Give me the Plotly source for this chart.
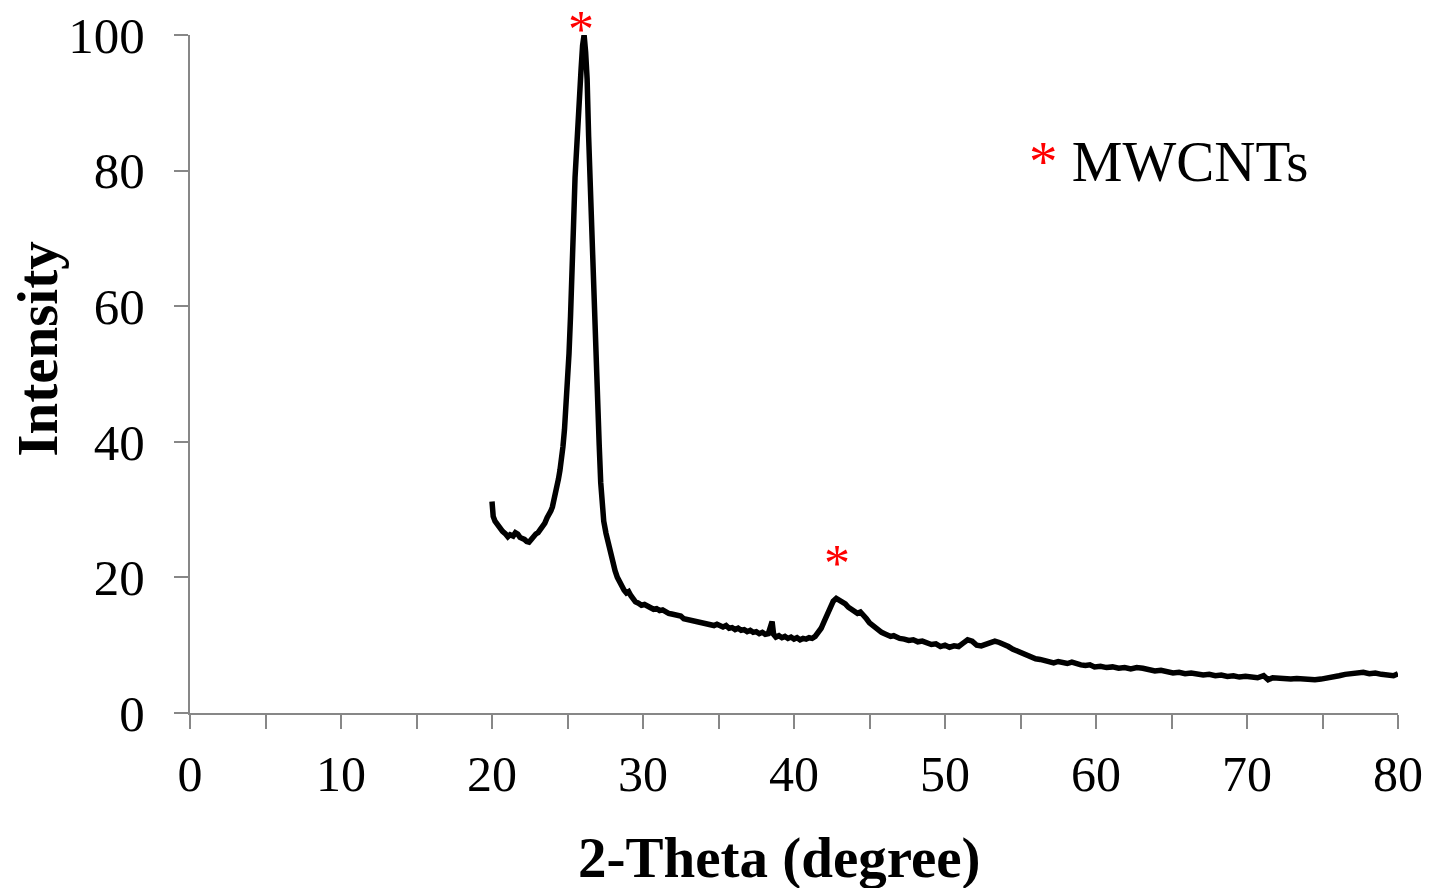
import plotly.graph_objects as go

theta = [20.0, 20.03, 20.08, 20.2, 20.35, 20.5, 20.7, 20.9, 21.05, 21.2, 21.4, 21.55, 21.7, 21.85,
         22.0, 22.15, 22.3, 22.45, 22.6, 22.75, 22.9, 23.05, 23.2, 23.35, 23.5, 23.65, 23.8, 23.9,
         24.0, 24.1, 24.2, 24.3, 24.4, 24.5, 24.6, 24.7, 24.8, 24.9, 25.0, 25.1, 25.2, 25.3, 25.4,
         25.5, 25.6, 25.7, 25.8, 25.9, 26.0, 26.1, 26.2, 26.3, 26.4, 26.5, 26.6, 26.7, 26.8, 26.9,
         27.0, 27.1, 27.2, 27.3, 27.4, 27.55, 27.7, 27.85, 28.0, 28.15, 28.3, 28.45, 28.6, 28.75,
         28.9, 29.05, 29.2, 29.35, 29.5, 29.7, 29.9, 30.1, 30.3, 30.5, 30.7, 30.9, 31.1, 31.3, 31.5,
         31.7, 31.9, 32.1, 32.3, 32.5, 32.7, 32.9, 33.1, 33.3, 33.5, 33.7, 33.9, 34.1, 34.3, 34.5,
         34.7, 34.9, 35.1, 35.3, 35.5, 35.7, 35.9, 36.1, 36.3, 36.5, 36.7, 36.9, 37.1, 37.3, 37.5,
         37.7, 37.9, 38.1, 38.3, 38.45, 38.55, 38.65, 38.8, 39.0, 39.2, 39.4, 39.6, 39.8, 40.0, 40.2,
         40.4, 40.6, 40.8, 41.0, 41.2, 41.4, 41.6, 41.8, 42.0, 42.2, 42.4, 42.6, 42.8, 43.0, 43.2,
         43.4, 43.6, 43.8, 44.0, 44.2, 44.4, 44.6, 44.8, 45.0, 45.2, 45.4, 45.6, 45.8, 46.0, 46.2,
         46.4, 46.6, 46.8, 47.0, 47.3, 47.6, 47.9, 48.2, 48.5, 48.8, 49.1, 49.4, 49.7, 50.0, 50.3,
         50.6, 50.9, 51.2, 51.5, 51.8, 52.1, 52.4, 52.7, 53.0, 53.3, 53.6, 53.9, 54.2, 54.5, 54.8,
         55.1, 55.4, 55.7, 56.0, 56.3, 56.6, 56.9, 57.2, 57.5, 57.8, 58.1, 58.4, 58.7, 59.0, 59.3,
         59.6, 59.9, 60.3, 60.7, 61.1, 61.5, 61.9, 62.3, 62.7, 63.1, 63.5, 63.9, 64.3, 64.7, 65.1,
         65.5, 65.9, 66.3, 66.7, 67.1, 67.5, 67.9, 68.3, 68.7, 69.1, 69.5, 69.9, 70.3, 70.7, 71.1,
         71.4, 71.7, 72.1, 72.5, 72.9, 73.3, 73.7, 74.1, 74.5, 74.9, 75.3, 75.7, 76.1, 76.5, 76.9,
         77.3, 77.7, 78.1, 78.5, 78.9, 79.3, 79.7, 80.0]

intensity = [31.2, 30.0, 29.0, 28.3, 27.8, 27.3, 26.8, 26.4, 26.0, 26.3, 26.1, 26.6, 26.4, 25.9,
             25.8, 25.6, 25.3, 25.2, 25.6, 26.1, 26.4, 26.6, 27.0, 27.5, 28.0, 28.8, 29.3, 29.8,
             30.4, 31.3, 32.2, 33.2, 34.5, 35.8, 37.2, 39.3, 41.8, 45.0, 48.5, 53.0, 58.5, 63.5, 72.0,
             79.0, 84.0, 88.5, 91.5, 95.0, 98.5, 100.0, 97.5, 93.5, 85.0, 77.6, 70.0, 63.0, 57.5, 51.5,
             47.0, 39.5, 34.0, 30.4, 28.3, 26.5, 25.0, 23.5, 22.3, 21.0, 20.0, 19.3, 18.9, 18.1,
             17.7, 17.9, 17.3, 16.7, 16.4, 16.2, 15.9, 16.0, 15.7, 15.6, 15.3, 15.4, 15.1, 15.2, 14.9,
             14.7, 14.6, 14.5, 14.2, 14.3, 13.9, 13.8, 13.9, 13.6, 13.7, 13.4, 13.5, 13.2, 13.3, 13.1,
             12.9, 13.1, 12.8, 12.7, 12.9, 12.5, 12.6, 12.3, 12.5, 12.2, 12.3, 12.0, 12.2, 11.9, 12.0,
             11.7, 11.9, 11.6, 11.7, 13.3, 13.5, 11.6, 11.2, 11.4, 11.1, 11.3, 11.0, 11.2, 10.9, 11.1,
             10.8, 11.0, 10.9, 11.1, 11.0, 11.3, 11.8, 12.5, 13.5, 14.6, 15.6, 16.5, 16.9, 16.7, 16.4,
             16.1, 15.6, 15.3, 14.9, 14.7, 14.9, 14.5, 13.9, 13.3, 12.9, 12.5, 12.2, 11.9, 11.7, 11.5,
             11.3, 11.4, 11.1, 11.0, 10.9, 10.7, 10.8, 10.5, 10.6, 10.3, 10.1, 10.2, 9.8, 10.0, 9.7,
             9.9, 9.8, 10.3, 10.8, 10.6, 10.0, 9.9, 10.2, 10.3, 10.6, 10.4, 10.2, 9.8, 9.4, 9.1,
             8.7, 8.4, 8.2, 8.0, 7.9, 7.7, 7.6, 7.4, 7.6, 7.5, 7.3, 7.5, 7.2, 7.1, 7.0,
             7.1, 6.8, 6.9, 6.7, 6.8, 6.6, 6.7, 6.5, 6.7, 6.6, 6.4, 6.2, 6.3, 6.0, 5.9,
             6.0, 5.8, 5.9, 5.7, 5.6, 5.7, 5.5, 5.6, 5.4, 5.5, 5.3, 5.4, 5.3, 5.2, 5.5,
             4.9, 5.2, 5.1, 5.2, 5.0, 5.1, 5.0, 5.1, 4.9, 5.0, 5.1, 5.2, 5.5, 5.7, 5.8,
             5.9, 6.0, 5.8, 5.9, 5.7, 5.6, 5.5, 5.8]

peak_marks_x = [25.9, 42.85]
peak_marks_y = [100.0, 22.0]
legend_label = "MWCNTs"
x_title = "2-Theta (degree)"
y_title = "Intensity"

FONT = "Times New Roman, Liberation Serif, serif"
AX = "#878787"

fig = go.Figure()
fig.add_trace(go.Scatter(x=theta, y=intensity, mode="lines",
                         line=dict(color="black", width=5.5),
                         cliponaxis=False, showlegend=False))

# peak markers (first one sits just above the top of the axis range)
fig.add_annotation(x=peak_marks_x[0], y=peak_marks_y[0], xref="x", yref="y", text="*",
                   showarrow=False, yshift=6,
                   font=dict(family=FONT, size=52, color="#ff0000"),
                   xanchor="center", yanchor="middle")
fig.add_annotation(x=peak_marks_x[1], y=peak_marks_y[1], xref="x", yref="y", text="*",
                   showarrow=False,
                   font=dict(family=FONT, size=52, color="#ff0000"),
                   xanchor="center", yanchor="middle")

fig.add_annotation(x=0.693, y=0.814, xref="paper", yref="paper",
                   text="<span style='color:#ff0000'>*</span> " + legend_label,
                   showarrow=False, xanchor="left", yanchor="middle",
                   font=dict(family=FONT, size=57, color="black"))

fig.add_annotation(x=0.4876, y=-0.214, xref="paper", yref="paper", text="<b>" + x_title + "</b>",
                   showarrow=False, xanchor="center", yanchor="middle",
                   font=dict(family=FONT, size=57, color="black"))
fig.add_annotation(x=-0.126, y=0.537, xref="paper", yref="paper", text="<b>" + y_title + "</b>",
                   showarrow=False, textangle=-90, xanchor="center", yanchor="middle",
                   font=dict(family=FONT, size=57, color="black"))

fig.update_xaxes(range=[0, 80], tickmode="linear", tick0=0, dtick=10, automargin=False,
                 ticks="outside", ticklen=14, tickwidth=2, tickcolor=AX,
                 minor=dict(dtick=5, tick0=0, ticks="outside", ticklen=14, tickwidth=2, tickcolor=AX),
                 showline=True, linecolor=AX, linewidth=2, showgrid=False, zeroline=False,
                 ticklabeloverflow="allow",
                 tickfont=dict(family=FONT, size=50, color="black"), ticklabelstandoff=2)
fig.update_yaxes(range=[0, 100], tickmode="linear", tick0=0, dtick=20, automargin=False,
                 ticks="outside", ticklen=14, tickwidth=2, tickcolor=AX,
                 showline=True, linecolor=AX, linewidth=2, showgrid=False, zeroline=False,
                 ticklabeloverflow="allow",
                 tickfont=dict(family=FONT, size=51, color="black"), ticklabelstandoff=19)

# the page body has an 8px margin, so the figure is drawn 8px in from the top-left
fig.update_layout(width=1423, height=880, plot_bgcolor="white", paper_bgcolor="white",
                  margin=dict(l=182, r=33, t=27, b=175), showlegend=False)

fig.write_html("out.html")
